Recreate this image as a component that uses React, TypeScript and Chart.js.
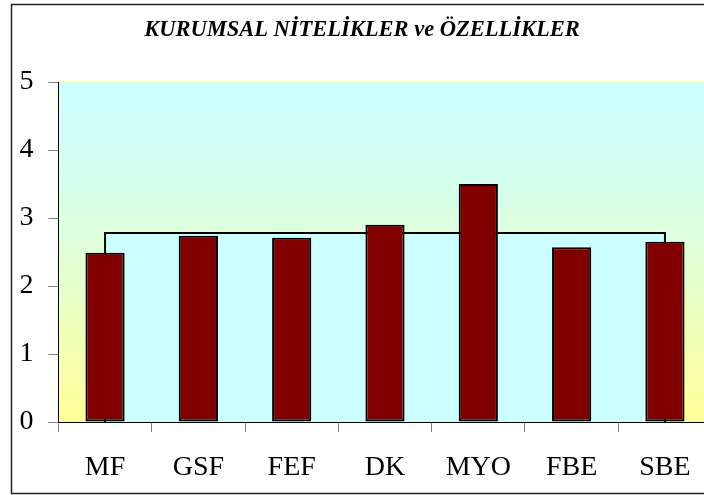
import React, { useEffect, useRef } from "react";
import { Chart, registerables } from "chart.js";

Chart.register(...registerables);

const categories = ["MF", "GSF", "FEF", "DK", "MYO", "FBE", "SBE"];
const scores = [2.49, 2.74, 2.71, 2.9, 3.5, 2.57, 2.65];
const averageScore = 2.78;
const yTicks = [0, 1, 2, 3, 4, 5];
const titleText = "KURUMSAL NİTELİKLER ve ÖZELLİKLER";

const CW = 730;
const CH = 495;

const bgPlugin = {
  id: "bgPlugin",
  beforeDraw(chart: any) {
    const { ctx, chartArea } = chart;
    const { left, top, right, bottom } = chartArea;
    ctx.save();
    ctx.fillStyle = "#ffffff";
    ctx.fillRect(0, 0, chart.width, chart.height);
    const g = ctx.createLinearGradient(0, top, 0, bottom);
    g.addColorStop(0, "#CCFFFF");
    g.addColorStop(0.3, "#D4FFEE");
    g.addColorStop(1, "#FFFF99");
    ctx.fillStyle = g;
    ctx.fillRect(left, top, right - left, bottom - top);
    ctx.strokeStyle = "#FFFF99";
    ctx.lineWidth = 1.5;
    ctx.beginPath();
    ctx.moveTo(left, top);
    ctx.lineTo(right, top);
    ctx.stroke();
    ctx.restore();
  },
  afterDraw(chart: any) {
    const { ctx } = chart;
    ctx.save();
    ctx.strokeStyle = "#222222";
    ctx.lineWidth = 1.5;
    ctx.strokeRect(11.5, 4.5, chart.width + 20, 489);
    ctx.restore();
  },
};

export default function App() {
  const ref = useRef<HTMLCanvasElement | null>(null);
  useEffect(() => {
    document.body.style.margin = "0";
    const canvas = ref.current;
    if (!canvas) return;
    const first = categories[0];
    const last = categories[categories.length - 1];
    const chart = new Chart(canvas, {
      data: {
        labels: categories,
        datasets: [
          {
            type: "bar",
            data: scores,
            backgroundColor: "#800000",
            borderColor: "#000000",
            borderWidth: 2,
            borderSkipped: false,
            categoryPercentage: 1,
            barPercentage: 0.42,
            order: 1,
          } as any,
          {
            type: "line",
            data: [
              { x: first, y: 0 },
              { x: first, y: averageScore },
              { x: last, y: averageScore },
              { x: last, y: 0 },
            ],
            backgroundColor: "#CCFFFF",
            borderColor: "#000000",
            borderWidth: 2,
            pointRadius: 0,
            tension: 0,
            fill: "origin",
            order: 2,
          } as any,
        ],
      },
      options: {
        animation: false,
        responsive: false,
        devicePixelRatio: 1,
        layout: { padding: { left: 12.4, right: 18.4, top: 0, bottom: 0 } },
        plugins: {
          legend: { display: false },
          tooltip: { enabled: false },
          title: {
            display: true,
            text: titleText,
            color: "#000000",
            font: { family: "Liberation Serif", size: 22.5, style: "italic", weight: "bold" },
            padding: { top: 17, bottom: 38 },
          },
        },
        scales: {
          x: {
            type: "category",
            offset: true,
            grid: {
              display: true,
              offset: true,
              drawOnChartArea: false,
              drawTicks: true,
              tickLength: 10,
              color: "#808080",
            },
            border: { display: true, color: "#000000", width: 1 },
            ticks: {
              color: "#000000",
              padding: 19,
              font: { family: "Liberation Serif", size: 28 },
              maxRotation: 0,
              autoSkip: false,
            },
            afterFit(scale: any) {
              scale.height = 73;
            },
          },
          y: {
            min: 0,
            max: 5,
            afterBuildTicks(scale: any) {
              scale.ticks = yTicks.map((v) => ({ value: v }));
            },
            grid: {
              display: true,
              drawOnChartArea: false,
              drawTicks: true,
              tickLength: 10,
              color: "#808080",
            },
            border: { display: true, color: "#000000", width: 1 },
            ticks: {
              color: "#000000",
              padding: 15,
              font: { family: "Liberation Serif", size: 28 },
            },
            afterFit(scale: any) {
              scale.width = 46;
            },
          },
        },
      },
      plugins: [bgPlugin],
    } as any);
    return () => chart.destroy();
  }, []);
  return (
    <div style={{ position: "relative", width: 704, height: 495, overflow: "hidden" }}>
      <canvas
        ref={ref}
        width={CW}
        height={CH}
        style={{ position: "absolute", left: 0, top: 0, width: CW, height: CH }}
      />
    </div>
  );
}
